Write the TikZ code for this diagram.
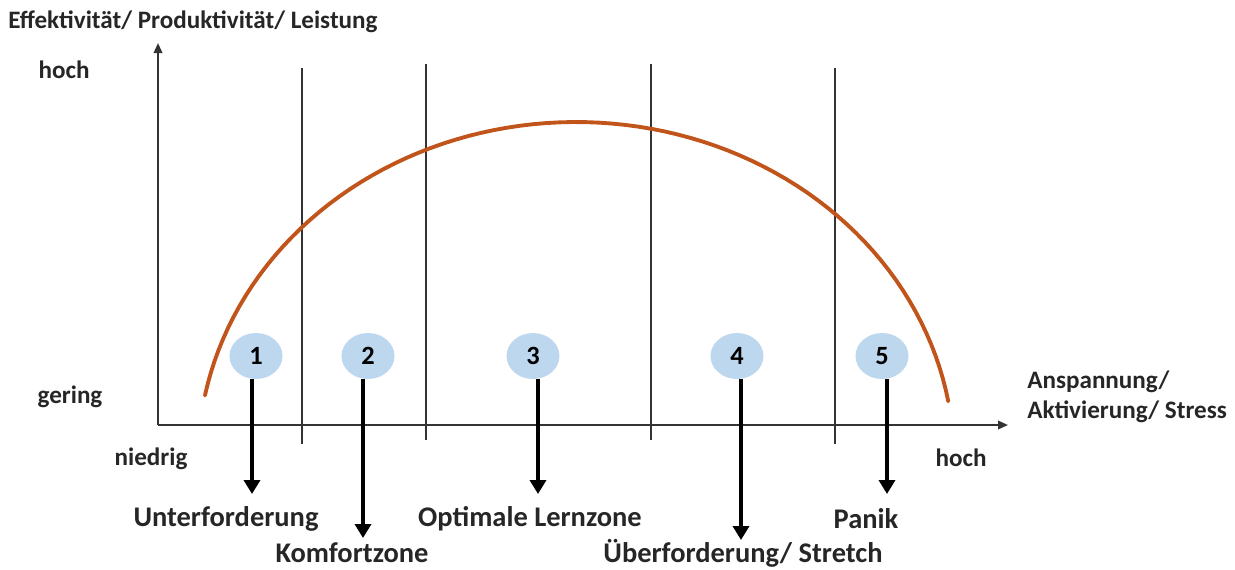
\documentclass[tikz,border=0pt]{standalone}
\usepackage{fontspec}
\setmainfont{Carlito}
\usepackage{tikz}
\usetikzlibrary{arrows.meta,positioning,shapes.geometric}
\definecolor{curvecol}{HTML}{C0541A}
\definecolor{zonefill}{HTML}{BDD7EE}
\definecolor{axiscol}{HTML}{333333}

\begin{document}
\begin{tikzpicture}[
  x=0.02cm,y=-0.02cm,
  axis/.style={axiscol,line width=1.1pt,-{Triangle[length=0.2cm,width=0.17cm]}},
  divider/.style={axiscol,line width=1.1pt},
  zone/.style={ellipse,fill=zonefill,minimum width=1.06cm,minimum height=0.92cm,
               inner sep=0pt,font=\fontsize{15}{17}\selectfont\bfseries},
  arr/.style={black,line width=2pt,-{Triangle[length=0.28cm,width=0.32cm]}},
  lbl/.style={font=\fontsize{16.2}{19}\selectfont\bfseries,text=black!85,inner sep=0pt},
  axlbl/.style={font=\fontsize{14.3}{17}\selectfont\bfseries,text=black!85,inner sep=0pt,align=left}
]
  \useasboundingbox (0,0) rectangle (1235,569);
  % axes
  \coordinate (o) at (158,425);
  \coordinate (xend) at (1008,425);
  \coordinate (yend) at (158,43);
  \draw[axis] (o) -- (xend);
  \draw[axis] (o) -- (yend);
  % zone borders
  \draw[divider] (302,68) -- (302,444);
  \draw[divider] (426,64) -- (426,440);
  \draw[divider] (651,64) -- (651,440);
  \draw[divider] (835,68) -- (835,444);
  % performance curve
  \draw[curvecol,line width=2.2pt,line cap=round]
    plot[domain=169:10,samples=80] ({576+378*cos(\x)},{460-338*sin(\x)});
  % axis labels
  \node[axlbl,anchor=west] (ytitle) at (8,22) {Effektivität/ Produktivität/ Leistung};
  \node[axlbl] (yhigh) at (64,70) {hoch};
  \node[axlbl] (ylow) at (70,397) {gering};
  \node[axlbl] (xlow) at (151,459) {niedrig};
  \node[axlbl] (xhigh) at (961,458) {hoch};
  \node[axlbl,anchor=west] (xtitle) at (1027,397) {Anspannung/\\Aktivierung/ Stress};
  % zones
  \node[zone] (z1) at (256,356) {1};
  \node[zone] (z2) at (368,356) {2};
  \node[zone] (z3) at (533,356) {3};
  \node[zone] (z4) at (737,356) {4};
  \node[zone] (z5) at (882,356) {5};
  \coordinate (e1) at (252,494);
  \coordinate (e2) at (363,538);
  \coordinate (e3) at (538,494);
  \coordinate (e4) at (741,540);
  \coordinate (e5) at (887,494);
  \draw[arr] (z1.south -| e1) -- (e1);
  \draw[arr] (z2.south -| e2) -- (e2);
  \draw[arr] (z3.south -| e3) -- (e3);
  \draw[arr] (z4.south -| e4) -- (e4);
  \draw[arr] (z5.south -| e5) -- (e5);
  \node[lbl] (l1) at (226,519) {Unterforderung};
  \node[lbl] (l2) at (352,553) {Komfortzone};
  \node[lbl] (l3) at (530,519) {Optimale Lernzone};
  \node[lbl] (l4) at (743,553) {Überforderung/ Stretch};
  \node[lbl] (l5) at (866,519) {Panik};
\end{tikzpicture}
\end{document}
